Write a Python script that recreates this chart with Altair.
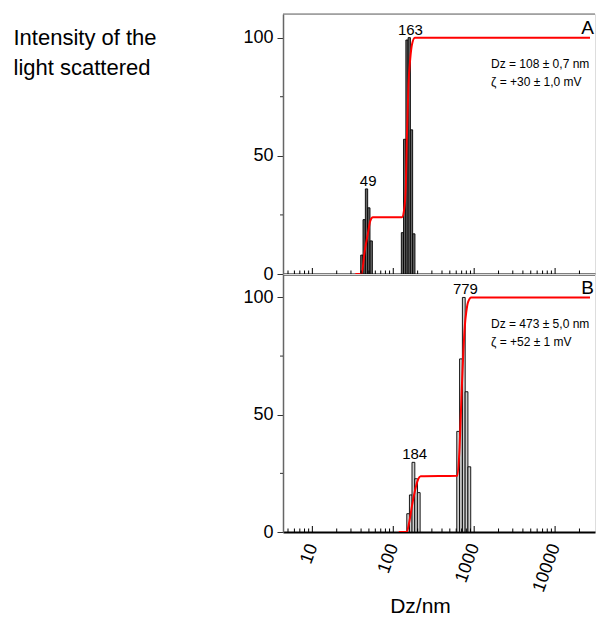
import altair as alt
import pandas as pd

FONT = "Liberation Sans"

# ---------------- data ----------------
# Panel A
a_bar_x = [40.9, 43.7, 46.7, 49.9, 53.4, 130, 138.4, 147.9, 157.6, 167.9, 179.4]
a_bar_y = [8, 23, 36, 28, 14, 17.5, 57, 99, 100, 61, 17]
a_cum_x = [34, 40.5, 44.5, 48.5, 52, 56, 128, 136, 143, 147, 154, 162, 170, 185, 27000]
a_cum_y = [0, 0, 10, 17, 22.5, 24, 24, 27, 37, 57, 80, 91, 97, 100, 100]
a_peak_x = [49, 163]
a_peak_y = [36, 100]
a_notes = ["Dz = 108 ± 0,7 nm", "ζ = +30 ± 1,0 mV"]

# Panel B
b_bar_x = [152.9, 164.8, 177.4, 191.6, 206.4, 634, 687, 744, 804, 871]
b_bar_y = [7.8, 15.8, 29.7, 22.7, 16.8, 42.9, 73.8, 100, 59.8, 27.8]
b_cum_x = [117, 147, 155, 161, 170, 185, 203, 218, 620, 660, 700, 735, 767, 800, 840, 922, 27000]
b_cum_y = [0, 0, 3, 6, 11, 17.5, 22.5, 23.8, 24, 36, 60, 77, 88, 94, 98, 100, 100]
b_peak_x = [184, 779]
b_peak_y = [29.7, 100]
b_notes = ["Dz = 473 ± 5,0 nm", "ζ = +52 ± 1 mV"]

# axis tick positions
x_major = [10, 100, 1000, 10000]
x_minor = [m * d for d in [1, 10, 100, 1000, 10000] for m in range(2, 10) if 5 <= m * d <= 27000]
y_major = [0, 50, 100]
y_minor = [25, 75]

X_DOMAIN = [5, 27000]
Y_DOMAIN = [0, 110]
W = 312


def panel(bar_x, bar_y, cum_x, cum_y, peak_x, peak_y, notes, letter, height, bar_w, fill, bottom):
    rows = []
    for x, y in zip(bar_x, bar_y):
        rows.append({"kind": "bar", "x": x, "y": y})
    for i, (x, y) in enumerate(zip(cum_x, cum_y)):
        rows.append({"kind": "cum", "x": x, "y": y, "o": i})
    for x, y in zip(peak_x, peak_y):
        rows.append({"kind": "peak", "x": x, "y": y, "label": str(x)})
    for t in x_major:
        rows.append({"kind": "xmajor", "x": t})
    for t in x_minor:
        rows.append({"kind": "xminor", "x": t})
    for t in y_minor:
        rows.append({"kind": "yminor", "y": t})
    df = pd.DataFrame(rows)

    xs = alt.Scale(type="log", domain=X_DOMAIN, nice=False)
    ys = alt.Scale(domain=Y_DOMAIN, nice=False, zero=False)

    if bottom:
        x_axis = alt.Axis(values=x_major, format=".0f", labelAngle=290, labelAlign="right",
                          labelBaseline="middle", labelPadding=12, labelFontSize=18,
                          labelColor="black", ticks=False, domainColor="black", domainWidth=2,
                          grid=False, title="Dz/nm", titleFontSize=21, titleFontWeight="normal",
                          titleColor="black", titleX=137, titleY=80, titleAlign="center",
                          titleBaseline="alphabetic")
    else:
        x_axis = alt.Axis(labels=False, ticks=False, domainColor="black", domainWidth=2,
                          grid=False, title=None)

    y_kwargs = dict(values=y_major, tickSize=6, tickColor="#333", labelFontSize=18,
                    labelColor="black", labelPadding=4, domainColor="#666", domainWidth=1.5,
                    grid=False)
    if not bottom:
        y_axis = alt.Axis(title=["Intensity of the", "light scattered"], titleAngle=0,
                          titleX=-270, titleY=30, titleAlign="left", titleBaseline="alphabetic",
                          titleFontSize=22, titleLineHeight=30, titleFontWeight="normal",
                          titleColor="black", **y_kwargs)
    else:
        y_axis = alt.Axis(title=None, **y_kwargs)

    X = alt.X("x:Q", scale=xs, axis=x_axis)
    Y = alt.Y("y:Q", scale=ys, axis=y_axis)

    base = alt.Chart(df)

    bars = base.transform_filter("datum.kind == 'bar'").mark_bar(
        width=bar_w, fill=fill, stroke="black", strokeWidth=0.9
    ).encode(x=X, y=Y, y2=alt.datum(0))

    curve = base.transform_filter("datum.kind == 'cum'").mark_line(
        color="#ff0000", strokeWidth=2, interpolate="monotone", clip=True
    ).encode(x=X, y=Y, order="o:Q")

    peaks = base.transform_filter("datum.kind == 'peak'").mark_text(
        dy=-3, baseline="alphabetic", align="center", fontSize=15, font=FONT, color="black"
    ).encode(x=X, y=Y, text="label:N")

    xmaj = base.transform_filter("datum.kind == 'xmajor'").mark_rule(
        color="black", strokeWidth=1
    ).encode(x=X, y=alt.value(height), y2=alt.value(height - 6))

    xmin = base.transform_filter("datum.kind == 'xminor'").mark_rule(
        color="black", strokeWidth=1
    ).encode(x=X, y=alt.value(height), y2=alt.value(height - 3.5))

    ymin = base.transform_filter("datum.kind == 'yminor'").mark_rule(
        color="#333", strokeWidth=1
    ).encode(y=Y, x=alt.value(-3), x2=alt.value(0))

    note1 = alt.Chart(pd.DataFrame({"t": [notes[0]]})).mark_text(
        align="left", baseline="middle", fontSize=12, font=FONT, color="black"
    ).encode(x=alt.value(208), y=alt.value(50), text="t:N")
    note2 = alt.Chart(pd.DataFrame({"t": [notes[1]]})).mark_text(
        align="left", baseline="middle", fontSize=12, font=FONT, color="black"
    ).encode(x=alt.value(208), y=alt.value(68), text="t:N")
    lab = alt.Chart(pd.DataFrame({"t": [letter]})).mark_text(
        align="right", baseline="alphabetic", fontSize=19, font=FONT, color="black"
    ).encode(x=alt.value(W - 1), y=alt.value(20), text="t:N")

    layers = [bars, curve, xmin, xmaj, ymin, peaks, note1, note2, lab]
    if not bottom:
        frame = alt.Chart(pd.DataFrame({"t": [0]})).mark_rule(color="#666", strokeWidth=1).encode(
            x=alt.value(0), x2=alt.value(W), y=alt.value(0)
        )
        layers.append(frame)
    return alt.layer(*layers).properties(width=W, height=height)


top = panel(a_bar_x, a_bar_y, a_cum_x, a_cum_y, a_peak_x, a_peak_y, a_notes, "A", 260, 2.3, "#666666", False)
bot = panel(b_bar_x, b_bar_y, b_cum_x, b_cum_y, b_peak_x, b_peak_y, b_notes, "B", 258, 2.8, "#cfcfcf", True)

chart = alt.vconcat(top, bot, spacing=0, bounds="flush").properties(
    padding={"left": 4, "top": 5, "right": 0, "bottom": 0}
).configure_view(stroke=None).configure_axis(
    labelFont=FONT, titleFont=FONT
).configure(background="white")

chart.save("out.html", embed_options={"renderer": "svg", "actions": False})
